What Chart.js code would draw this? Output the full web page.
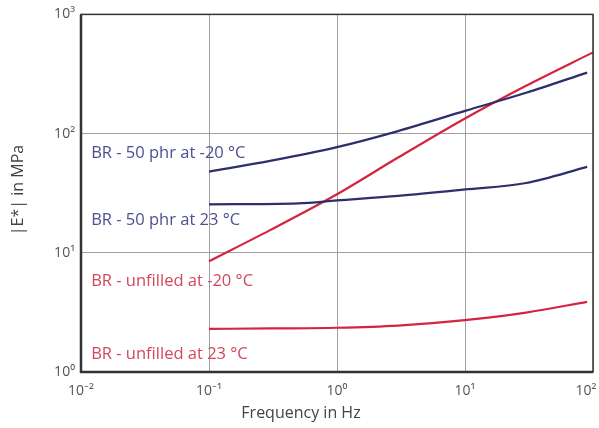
<!DOCTYPE html>
<html>
<head>
<meta charset="utf-8">
<script src="https://cdn.jsdelivr.net/npm/chart.js@4/dist/chart.umd.min.js"></script>
<style>
  html, body { margin:0; padding:0; background:#fff; }
</style>
</head>
<body>
<canvas id="chart" width="599" height="428"></canvas>
<script>
// frequency in Hz, |E*| in MPa
const freqFilledCold = [0.1, 0.3, 1, 3, 10, 30, 90];
const modFilledCold  = [48, 59, 77, 105, 155, 220, 325];

const freqFilledWarm = [0.1, 0.5, 1, 3, 10, 30, 90];
const modFilledWarm  = [25.5, 26, 27.5, 30, 34, 38.5, 52.6];

const freqUnfilledCold = [0.1, 0.3, 1, 3, 10, 30, 100];
const modUnfilledCold  = [8.5, 15.5, 31, 63, 134, 252, 480];

const freqUnfilledWarm = [0.1, 0.3, 1, 3, 10, 30, 90];
const modUnfilledWarm  = [2.3, 2.32, 2.35, 2.45, 2.72, 3.15, 3.88];

const xTickValues = [0.01, 0.1, 1, 10, 100];
const xTickLabels = ['10⁻²', '10⁻¹', '10⁰', '10¹', '10²'];
const yTickValues = [1, 10, 100, 1000];
const yTickLabels = ['10⁰', '10¹', '10²', '10³'];

const curveNames = ['BR - 50 phr at -20 °C', 'BR - 50 phr at 23 °C', 'BR - unfilled at -20 °C', 'BR - unfilled at 23 °C'];
const noteX = [0.012, 0.012, 0.012, 0.012];
const noteY = [69, 18.7, 5.76, 1.41];

const NAVY = '#2d2f6c', RED = '#d3253f';
const NAVY_TXT = '#4d5090', RED_TXT = '#d2485a';
const FONT = '"Open Sans"';

function pts(xs, ys){ return xs.map((x,i)=>({x, y:ys[i]})); }
function line(label, xs, ys, color){
  return { label, data: pts(xs, ys), borderColor: color, borderWidth: 2.2, pointRadius: 0, cubicInterpolationMode: 'monotone', fill: false };
}

const framePlugin = {
  id: 'frame',
  afterDraw(c){
    const {ctx, chartArea:a, scales:{x, y}} = c;
    ctx.save();
    ctx.strokeStyle = '#333'; ctx.lineWidth = 1.5;
    ctx.strokeRect(a.left, a.top, a.right - a.left, a.bottom - a.top);
    ctx.lineWidth = 2.5;
    ctx.beginPath(); ctx.moveTo(a.left, a.top); ctx.lineTo(a.left, a.bottom); ctx.lineTo(a.right, a.bottom); ctx.stroke();
    // curve notes
    ctx.font = '16.5px ' + FONT; ctx.textBaseline = 'middle'; ctx.textAlign = 'left';
    curveNames.forEach((t, i) => {
      ctx.fillStyle = i < 2 ? NAVY_TXT : RED_TXT;
      ctx.fillText(t, x.getPixelForValue(noteX[i]), y.getPixelForValue(noteY[i]));
    });
    // axis titles
    ctx.fillStyle = '#444'; ctx.font = '16px ' + FONT; ctx.textAlign = 'center';
    ctx.fillText('Frequency in Hz', 301, 413);
    ctx.translate(18, 190); ctx.rotate(-Math.PI/2);
    ctx.fillText('|E*| in MPa', 0, 0);
    ctx.restore();
  }
};

new Chart(document.getElementById('chart'), {
  type: 'line',
  data: { datasets: [
    line(curveNames[0], freqFilledCold, modFilledCold, NAVY),
    line(curveNames[1], freqFilledWarm, modFilledWarm, NAVY),
    line(curveNames[2], freqUnfilledCold, modUnfilledCold, RED),
    line(curveNames[3], freqUnfilledWarm, modUnfilledWarm, RED)
  ]},
  options: {
    responsive: false, animation: false, devicePixelRatio: 1,
    layout: { padding: { top: 13, right: 6, left: 0, bottom: 0 } },
    plugins: { legend: { display: false }, tooltip: { enabled: false } },
    scales: {
      x: {
        type: 'logarithmic', min: 0.01, max: 100,
        afterBuildTicks: s => { s.ticks = xTickValues.map(v => ({value: v})); },
        afterFit: s => { s.height = 56; s.paddingLeft = 0; s.paddingRight = 0; },
        ticks: { color: '#555', font: { family: 'Open Sans', size: 14 }, padding: 11, maxRotation: 0,
                 // last label nudged left so it stays inside the canvas
                 callback: (v) => { const i = xTickValues.indexOf(v); return i === xTickValues.length - 1 ? xTickLabels[i] + '\u2002\u2002' : xTickLabels[i]; } },
        grid: { color: '#a0a0a0', lineWidth: 1, drawTicks: false },
        border: { display: false }
      },
      y: {
        type: 'logarithmic', min: 1, max: 1000,
        afterBuildTicks: s => { s.ticks = yTickValues.map(v => ({value: v})); },
        afterFit: s => { s.width = 81; },
        ticks: { color: '#555', font: { family: 'Open Sans', size: 14 }, padding: 6,
                 callback: (v) => yTickLabels[yTickValues.indexOf(v)] },
        grid: { color: '#a0a0a0', lineWidth: 1, drawTicks: false },
        border: { display: false }
      }
    }
  },
  plugins: [framePlugin]
});
</script>
</body>
</html>
